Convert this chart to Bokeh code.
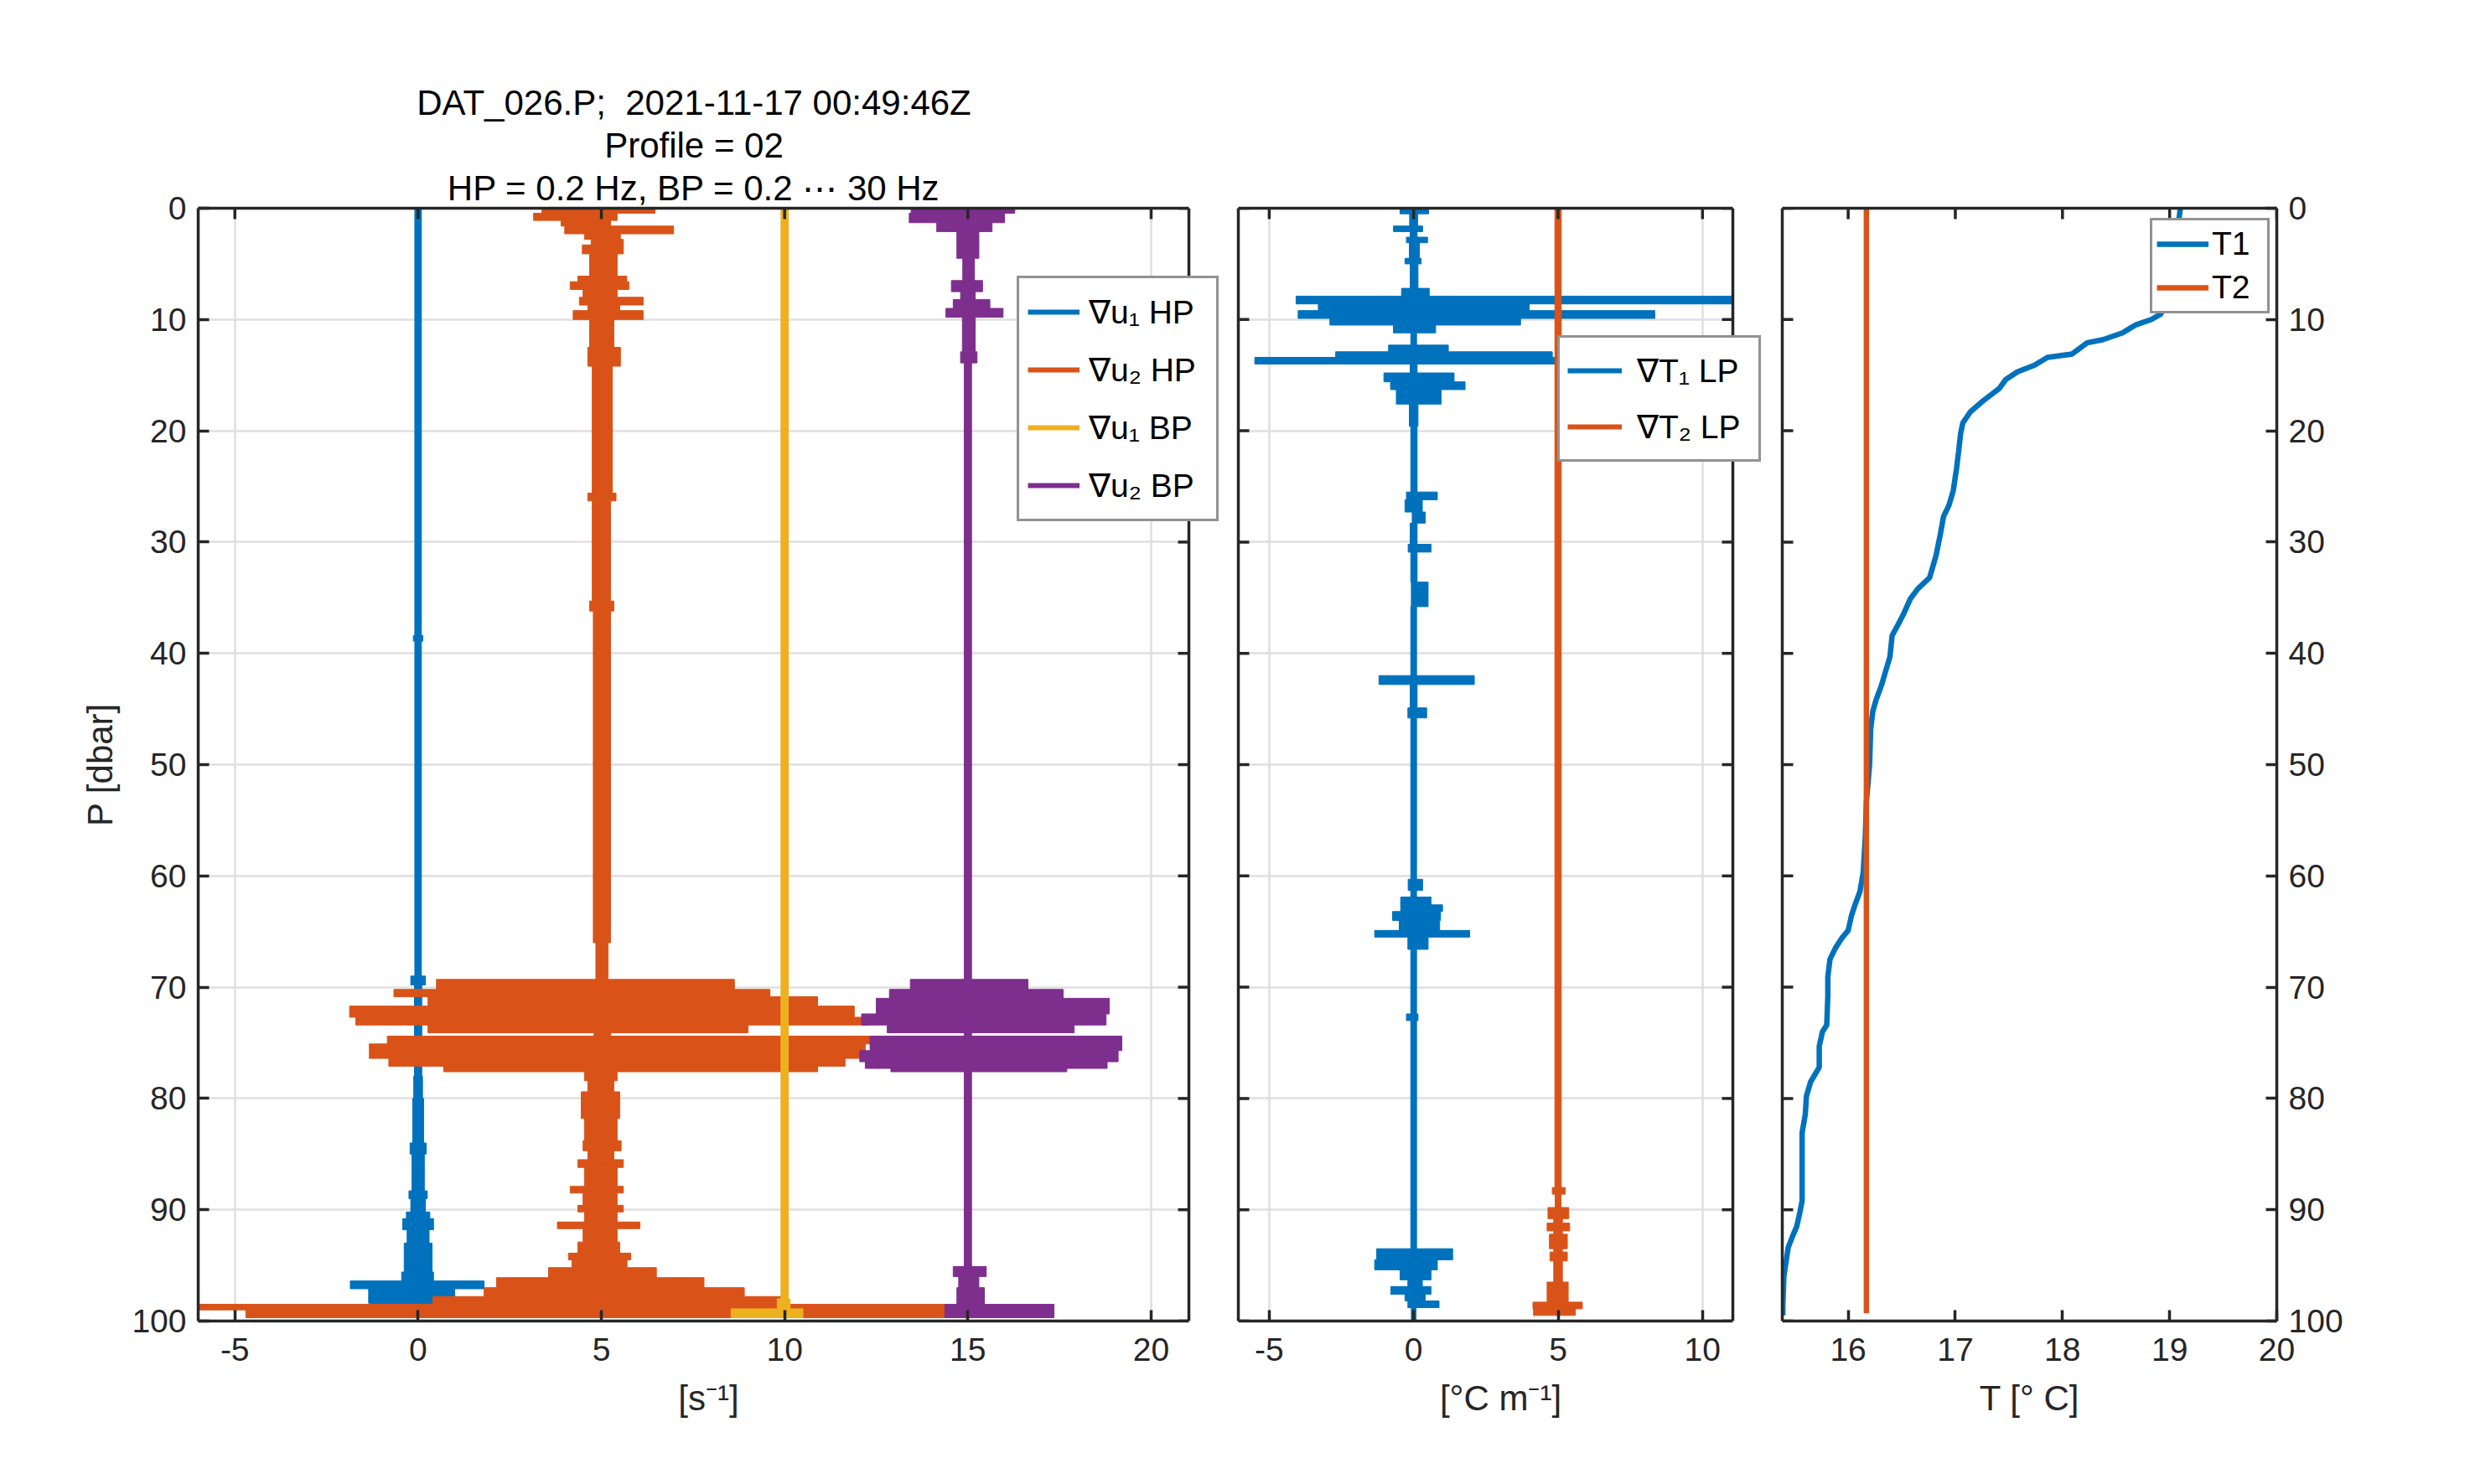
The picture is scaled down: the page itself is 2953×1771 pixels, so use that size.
from bokeh.plotting import figure
from bokeh.models import (Range1d, FixedTicker, LinearAxis, Legend, LegendItem,
                          Title, ColumnDataSource, Span, BoxAnnotation)
from bokeh.layouts import row
from bokeh.embed import file_html
from bokeh.resources import INLINE

# ---------------- data ----------------
# each row: (P_top, P_bottom, x_min, x_max) envelope of the noisy trace
Y_TICKS = [0, 10, 20, 30, 40, 50, 60, 70, 80, 90, 100]
X1_TICKS = [-5, 0, 5, 10, 15, 20]
X2_TICKS = [-5, 0, 5, 10]
X3_TICKS = [16, 17, 18, 19, 20]
X1_LIM = (-6.0, 21.03)
X2_LIM = (-6.07, 11.05)
X3_LIM = (15.385, 20.0)

DU1_HP = [(0, 38.4, -0.09, 0.09), (38.4, 38.9, -0.13, 0.13), (38.9, 69.0, -0.09, 0.09),
          (69.0, 69.8, -0.2, 0.2), (69.8, 78.0, -0.1, 0.1), (78.0, 80.0, -0.12, 0.12),
          (80.0, 84.0, -0.15, 0.15), (84.0, 85.0, -0.22, 0.22), (85.0, 88.3, -0.17, 0.17),
          (88.3, 89.0, -0.25, 0.25), (89.0, 90.2, -0.2, 0.2), (90.2, 90.8, -0.32, 0.32),
          (90.8, 91.8, -0.42, 0.42), (91.8, 93.0, -0.3, 0.3), (93.0, 95.6, -0.38, 0.38),
          (95.6, 96.4, -0.45, 0.42), (96.4, 97.1, -1.85, 1.8), (97.1, 98.4, -1.35, 1.0),
          (98.4, 99.5, -1.3, 1.0)]

DU2_HP = [(0.0, 0.45, 3.38, 6.46), (0.45, 1.1, 3.15, 5.43), (1.1, 1.6, 3.9, 5.25),
          (1.6, 2.3, 4.0, 6.97), (2.3, 2.8, 4.54, 5.52), (2.8, 3.3, 4.72, 5.6),
          (3.3, 4.1, 4.48, 5.6), (4.1, 6.1, 4.68, 5.43), (6.1, 6.6, 4.36, 5.69),
          (6.6, 7.3, 4.15, 5.75), (7.3, 8.0, 4.5, 5.43), (8.0, 8.7, 4.4, 6.14),
          (8.7, 9.2, 4.63, 5.5), (9.2, 10.0, 4.23, 6.14), (10.0, 12.5, 4.68, 5.34),
          (12.5, 14.2, 4.63, 5.52), (14.2, 25.6, 4.75, 5.3), (25.6, 26.3, 4.63, 5.4),
          (26.3, 35.3, 4.75, 5.25), (35.3, 36.2, 4.68, 5.34), (36.2, 66.0, 4.78, 5.25),
          (66.0, 69.3, 4.85, 5.18), (69.3, 70.2, 0.5, 8.63), (70.2, 70.85, -0.66, 9.6),
          (70.85, 71.7, 0.27, 10.9), (71.7, 72.7, -1.87, 11.9), (72.7, 73.4, -1.7, 12.3),
          (73.4, 74.1, 0.27, 9.0), (74.1, 74.4, 4.8, 5.25), (74.4, 75.1, -0.84, 12.4),
          (75.1, 76.4, -1.33, 12.2), (76.4, 77.1, -0.8, 11.65), (77.1, 77.6, 0.7, 10.9),
          (77.6, 78.4, 4.54, 5.43), (78.4, 79.4, 4.63, 5.34), (79.4, 81.8, 4.45, 5.5),
          (81.8, 83.8, 4.54, 5.43), (83.8, 84.7, 4.5, 5.54), (84.7, 85.5, 4.63, 5.34),
          (85.5, 86.2, 4.36, 5.6), (86.2, 87.9, 4.54, 5.43), (87.9, 88.5, 4.15, 5.6),
          (88.5, 89.6, 4.5, 5.43), (89.6, 90.2, 4.36, 5.6), (90.2, 91.1, 4.54, 5.43),
          (91.1, 91.7, 3.8, 6.05), (91.7, 92.9, 4.5, 5.43), (92.9, 93.9, 4.36, 5.5),
          (93.9, 94.5, 4.1, 5.8), (94.5, 95.2, 4.2, 5.7), (95.2, 96.1, 3.56, 6.5),
          (96.1, 97.0, 2.14, 7.8), (97.0, 97.8, 1.8, 8.9), (97.8, 98.5, 0.4, 9.95),
          (98.5, 99.0, -6.0, 14.5), (99.0, 99.7, -4.7, 14.5)]

DU1_BP = [(0.0, 98.0, 9.9, 10.1), (98.0, 98.9, 9.8, 10.15), (98.9, 99.7, 8.54, 10.5)]

DU2_BP = [(0.0, 0.45, 13.45, 16.28), (0.45, 1.3, 13.4, 16.0), (1.3, 2.1, 14.15, 15.66),
          (2.1, 4.5, 14.7, 15.3), (4.5, 6.5, 14.86, 15.18), (6.5, 7.5, 14.55, 15.4),
          (7.5, 8.2, 14.8, 15.2), (8.2, 9.0, 14.6, 15.6), (9.0, 9.8, 14.4, 15.96),
          (9.8, 12.9, 14.85, 15.2), (12.9, 13.9, 14.8, 15.25), (13.9, 69.3, 14.9, 15.1),
          (69.3, 70.2, 13.43, 16.64), (70.2, 71.0, 12.86, 17.6), (71.0, 72.4, 12.5, 18.86),
          (72.4, 73.4, 12.1, 18.77), (73.4, 74.1, 12.8, 17.9), (74.1, 74.4, 14.9, 15.1),
          (74.4, 75.7, 12.33, 19.2), (75.7, 76.7, 12.05, 19.1), (76.7, 77.3, 12.2, 18.8),
          (77.3, 77.6, 12.9, 17.7), (77.6, 95.1, 14.9, 15.1), (95.1, 96.0, 14.6, 15.5),
          (96.0, 97.0, 14.75, 15.3), (97.0, 98.5, 14.7, 15.45), (98.5, 99.7, 14.37, 17.35)]

DT1_LP = [(0.0, 0.5, -0.47, 0.52), (0.5, 1.6, -0.14, 0.14), (1.6, 2.1, -0.7, 0.31),
          (2.1, 2.6, -0.12, 0.12), (2.6, 3.1, -0.25, 0.48), (3.1, 4.5, -0.15, 0.2),
          (4.5, 5.0, -0.3, 0.26), (5.0, 7.2, -0.12, 0.15), (7.2, 7.9, -0.42, 0.54),
          (7.9, 8.6, -4.07, 11.05), (8.6, 9.2, -3.3, 4.0), (9.2, 9.9, -4.0, 8.35),
          (9.9, 10.5, -2.9, 3.7), (10.5, 11.2, -0.7, 0.76), (11.2, 12.3, -0.1, 0.1),
          (12.3, 12.9, -0.87, 1.2), (12.9, 13.4, -2.7, 4.8), (13.4, 14.0, -5.5, 4.9),
          (14.0, 14.8, -0.12, 0.12), (14.8, 15.6, -1.03, 1.4), (15.6, 16.3, -0.8, 1.78),
          (16.3, 17.6, -0.6, 0.95), (17.6, 19.6, -0.15, 0.15), (19.6, 25.5, -0.1, 0.12),
          (25.5, 26.2, -0.25, 0.82), (26.2, 27.3, -0.3, 0.3), (27.3, 28.3, -0.05, 0.4),
          (28.3, 30.2, -0.12, 0.12), (30.2, 30.9, -0.19, 0.6), (30.9, 33.6, -0.1, 0.12),
          (33.6, 35.8, -0.08, 0.5), (35.8, 42.0, -0.1, 0.1), (42.0, 42.8, -1.2, 2.1),
          (42.8, 44.9, -0.12, 0.12), (44.9, 45.8, -0.2, 0.45), (45.8, 60.3, -0.1, 0.1),
          (60.3, 61.3, -0.19, 0.31), (61.3, 61.9, -0.1, 0.1), (61.9, 62.6, -0.45, 0.6),
          (62.6, 63.2, -0.45, 1.0), (63.2, 64.0, -0.73, 0.93), (64.0, 64.9, -0.5, 0.9),
          (64.9, 65.5, -1.35, 1.94), (65.5, 66.6, -0.2, 0.5), (66.6, 72.4, -0.1, 0.1),
          (72.4, 73.0, -0.25, 0.15), (73.0, 93.5, -0.1, 0.1), (93.5, 94.5, -1.28, 1.35),
          (94.5, 95.4, -1.35, 0.82), (95.4, 96.3, -0.47, 0.6), (96.3, 96.9, -0.2, 0.3),
          (96.9, 97.6, -0.79, 0.6), (97.6, 98.2, -0.3, 0.4), (98.2, 98.8, -0.2, 0.88),
          (98.8, 100.0, -0.08, 0.08)]

DT2_LP = [(0.0, 88.0, 4.89, 5.11), (88.0, 88.6, 4.8, 5.25), (88.6, 89.8, 4.9, 5.1),
          (89.8, 90.8, 4.65, 5.37), (90.8, 91.2, 4.85, 5.15), (91.2, 91.9, 4.62, 5.4),
          (91.9, 92.2, 4.85, 5.15), (92.2, 93.5, 4.7, 5.32), (93.5, 93.8, 4.85, 5.15),
          (93.8, 94.6, 4.72, 5.32), (94.6, 96.5, 4.85, 5.15), (96.5, 98.3, 4.62, 5.35),
          (98.3, 98.9, 4.13, 5.84), (98.9, 99.5, 4.15, 5.6)]

T1_P = [0, 1.5, 9.5, 10.0, 10.5, 11.2, 11.8, 12.1, 13.1, 13.4, 14.1, 14.7, 15.4, 16.2,
        17.3, 18.3, 19.3, 20.2, 21.9, 23.5, 25.4, 26.7, 27.7, 29.3, 31.2, 33.2, 34.2,
        35.1, 36.4, 37.7, 38.4, 40.3, 41.6, 42.9, 44.2, 45.2, 46.8, 50.0, 53.3, 56.5,
        59.7, 61.4, 62.7, 63.6, 64.9, 65.6, 66.5, 67.5, 69.1, 70.8, 73.4, 74.0, 75.3,
        77.2, 78.5, 79.8, 81.4, 83.1, 85.0, 89.2, 90.2, 91.5, 92.4, 93.4, 94.7, 96.0,
        98.6, 99.5]
T1 = [19.10, 19.08, 18.92, 18.83, 18.68, 18.56, 18.38, 18.23, 18.09, 17.86, 17.74, 17.58,
      17.47, 17.41, 17.26, 17.14, 17.07, 17.05, 17.03, 17.01, 16.98, 16.94, 16.89, 16.86,
      16.82, 16.76, 16.65, 16.58, 16.52, 16.45, 16.41, 16.39, 16.35, 16.31, 16.26, 16.23,
      16.21, 16.20, 16.17, 16.16, 16.14, 16.11, 16.06, 16.03, 16.00, 15.94, 15.88, 15.83,
      15.81, 15.81, 15.80, 15.76, 15.73, 15.73, 15.65, 15.61, 15.60, 15.57, 15.57, 15.57,
      15.55, 15.52, 15.48, 15.44, 15.42, 15.40, 15.39, 15.39]
T2_P = [0.0, 25.0, 50.0, 75.0, 99.3]
T2 = [16.17, 16.17, 16.17, 16.17, 16.17]

TITLE_LINES = ["DAT_026.P;\u00a0 2021-11-17 00:49:46Z", "Profile = 02",
               "HP = 0.2 Hz, BP = 0.2 \u22ef 30 Hz"]

# ---------------- style / layout ----------------
FONT = "Liberation Sans"
FS_TICK = "39px"
FS_LABEL = "42px"
FS_LEG = "39px"
AX = "#262626"
GRID = "#dfdfdf"
BLUE, ORANGE, YELLOW, PURPLE = "#0072BD", "#D95319", "#EDB120", "#7E2F8E"
FRAME_H = 1328
TICK = 13          # inward tick length, px
LW = 3.5           # axes line width
STRIP = 36         # room inside the frame where a legend overhangs the box
NAN = float("nan")
CENTER_PAD = "\u00a0\u00a0\u00a0"   # re-centres the title over the box (frame is wider by STRIP)


def block_source(rows):
    return ColumnDataSource(dict(top=[r[0] for r in rows], bottom=[r[1] for r in rows],
                                 left=[r[2] for r in rows], right=[r[3] for r in rows]))


def add_blocks(p, rows, color):
    p.quad(top="top", bottom="bottom", left="left", right="right",
           source=block_source(rows), fill_color=color, line_color=color, line_width=1)


def label_axis(ax, ticks, bounds=None):
    ax.ticker = FixedTicker(ticks=ticks)
    ax.axis_line_color = AX
    ax.axis_line_width = LW
    ax.major_tick_line_color = AX
    ax.major_tick_line_width = LW
    ax.major_tick_in = TICK
    ax.major_tick_out = 0
    ax.minor_tick_line_color = None
    ax.major_label_text_font = FONT
    ax.major_label_text_font_size = FS_TICK
    ax.major_label_text_color = AX
    ax.major_label_standoff = 20
    ax.major_label_overrides = {-5: "-5"}
    ax.axis_label_text_font = FONT
    ax.axis_label_text_font_size = FS_LABEL
    ax.axis_label_text_font_style = "normal"
    ax.axis_label_text_color = AX
    ax.axis_label_standoff = 18
    if bounds is not None:
        ax.bounds = bounds


def line_axis(ax, bounds=None, out=0):
    ax.ticker = FixedTicker(ticks=[])
    ax.axis_line_color = AX
    ax.axis_line_width = LW
    ax.major_tick_in = 0
    ax.major_tick_out = out
    ax.minor_tick_line_color = None
    ax.major_label_standoff = 0
    ax.axis_label_standoff = 0
    if bounds is not None:
        ax.bounds = bounds


def make_panel(xlim, xticks, xlabel, box_w, strip, mbl, mbr, y_side, grid):
    pxu = box_w / (xlim[1] - xlim[0])
    xend = xlim[1] + strip / pxu
    p = figure(frame_width=box_w + strip, frame_height=FRAME_H,
               x_range=Range1d(xlim[0], xend), y_range=Range1d(100, 0),
               output_backend="svg", toolbar_location=None,
               y_axis_location=y_side,
               min_border_left=mbl, min_border_right=mbr,
               min_border_top=248, min_border_bottom=150,
               background_fill_color="white", border_fill_color="white")
    p.outline_line_color = None
    label_axis(p.below[0], xticks, bounds=xlim)
    p.below[0].axis_label = xlabel
    top = LinearAxis()
    line_axis(top, bounds=xlim, out=11)
    p.add_layout(top, "above")
    p.xgrid.ticker = FixedTicker(ticks=xticks)
    p.ygrid.ticker = FixedTicker(ticks=Y_TICKS)
    p.grid.grid_line_color = GRID if grid else None
    p.grid.grid_line_width = 2.5
    # inward ticks on the unlabeled box sides
    tl_y = TICK * 100.0 / FRAME_H
    tl_x = TICK / pxu
    sx0, sx1, sy0, sy1 = [], [], [], []
    for t in xticks:
        sx0.append(t); sx1.append(t); sy0.append(0.0); sy1.append(tl_y)
    if y_side == "left":
        for t in Y_TICKS:
            sx0.append(xlim[1]); sx1.append(xlim[1] - tl_x); sy0.append(t); sy1.append(t)
    if strip > 0:
        p.add_layout(BoxAnnotation(left=xlim[1], fill_color="white", fill_alpha=1.0,
                                   line_color=None, level="underlay"))
    return p, (sx0, sx1, sy0, sy1), pxu


def add_tick_segments(p, segs):
    sx0, sx1, sy0, sy1 = segs
    p.segment(x0=sx0, x1=sx1, y0=sy0, y1=sy1, line_color=AX, line_width=LW)


def make_legend(items, loc, padding, spacing, gw, gh, lw, standoff):
    return Legend(items=items, location=loc, margin=0, padding=padding, spacing=spacing,
                  glyph_width=gw, glyph_height=gh, label_height=gh, label_width=lw,
                  label_standoff=standoff, label_text_font=FONT, label_text_font_size=FS_LEG,
                  label_text_color="black", border_line_color=AX, border_line_width=3.3,
                  background_fill_color="white", background_fill_alpha=1.0)


# ---------------- panel 1: shear ----------------
p1, segs1, pxu1 = make_panel(X1_LIM, X1_TICKS, "[s\u207b\u00b9]", 1182, STRIP, 236, 0, "left", True)
label_axis(p1.left[0], Y_TICKS)
p1.left[0].axis_label = "P [dbar]"
p1.left[0].major_label_standoff = 14
p1.left[0].axis_label_standoff = 11
series1 = [(DU1_HP, BLUE, "\u2207u\u2081 HP"), (DU2_HP, ORANGE, "\u2207u\u2082 HP"),
           (DU1_BP, YELLOW, "\u2207u\u2081 BP"), (DU2_BP, PURPLE, "\u2207u\u2082 BP")]
items1 = []
for rows, col, lab in series1:
    add_blocks(p1, rows, col)
    r = p1.line(x=[NAN], y=[NAN], line_color=col, line_width=6)
    items1.append(LegendItem(label=lab, renderers=[r]))
add_tick_segments(p1, segs1)
p1.add_layout(Span(location=X1_LIM[1], dimension="height", line_color=AX, line_width=LW))
p1.add_layout(make_legend(items1, (977, 954), 10, 9, 62, 60, 142, 11))
for txt in reversed(TITLE_LINES):
    p1.add_layout(Title(text=txt + CENTER_PAD, align="center", text_font=FONT,
                        text_font_size=FS_LABEL, text_font_style="normal",
                        text_color="black", standoff=2), "above")

# ---------------- panel 2: temperature gradient ----------------
p2, segs2, pxu2 = make_panel(X2_LIM, X2_TICKS, "[\u00b0C m\u207b\u00b9]", 590, STRIP, 23, 0, "left", True)
line_axis(p2.left[0])
tl2 = TICK / pxu2
for t in Y_TICKS:
    segs2[0].append(X2_LIM[0]); segs2[1].append(X2_LIM[0] + tl2)
    segs2[2].append(t); segs2[3].append(t)
items2 = []
for rows, col, lab in [(DT1_LP, BLUE, "\u2207T\u2081 LP"), (DT2_LP, ORANGE, "\u2207T\u2082 LP")]:
    add_blocks(p2, rows, col)
    r = p2.line(x=[NAN], y=[NAN], line_color=col, line_width=6)
    items2.append(LegendItem(label=lab, renderers=[r]))
add_tick_segments(p2, segs2)
p2.add_layout(Span(location=X2_LIM[1], dimension="height", line_color=AX, line_width=LW))
p2.add_layout(make_legend(items2, (381, 1025), 9, 7, 65, 60, 136, 18))

# ---------------- panel 3: temperature ----------------
p3, segs3, pxu3 = make_panel(X3_LIM, X3_TICKS, "T [\u00b0 C]", 590, 0, 23, 120, "right", False)
label_axis(p3.right[0], Y_TICKS)
p3.right[0].major_label_standoff = 14
left3 = LinearAxis()
line_axis(left3)
p3.add_layout(left3, "left")
tl3 = TICK / pxu3
for t in Y_TICKS:
    segs3[0].append(X3_LIM[0]); segs3[1].append(X3_LIM[0] + tl3)
    segs3[2].append(t); segs3[3].append(t)
r_t1 = p3.line(x=T1, y=T1_P, line_color=BLUE, line_width=6.5)
r_t2 = p3.line(x=T2, y=T2_P, line_color=ORANGE, line_width=6.5)
add_tick_segments(p3, segs3)
items3 = [LegendItem(label="T1", renderers=[r_t1]), LegendItem(label="T2", renderers=[r_t2])]
p3.add_layout(make_legend(items3, (439, 1202), 5, 6, 62, 46, 61, 4))

layout = row(p1, p2, p3, spacing=0)
open("out.html", "w").write(file_html(layout, INLINE))
